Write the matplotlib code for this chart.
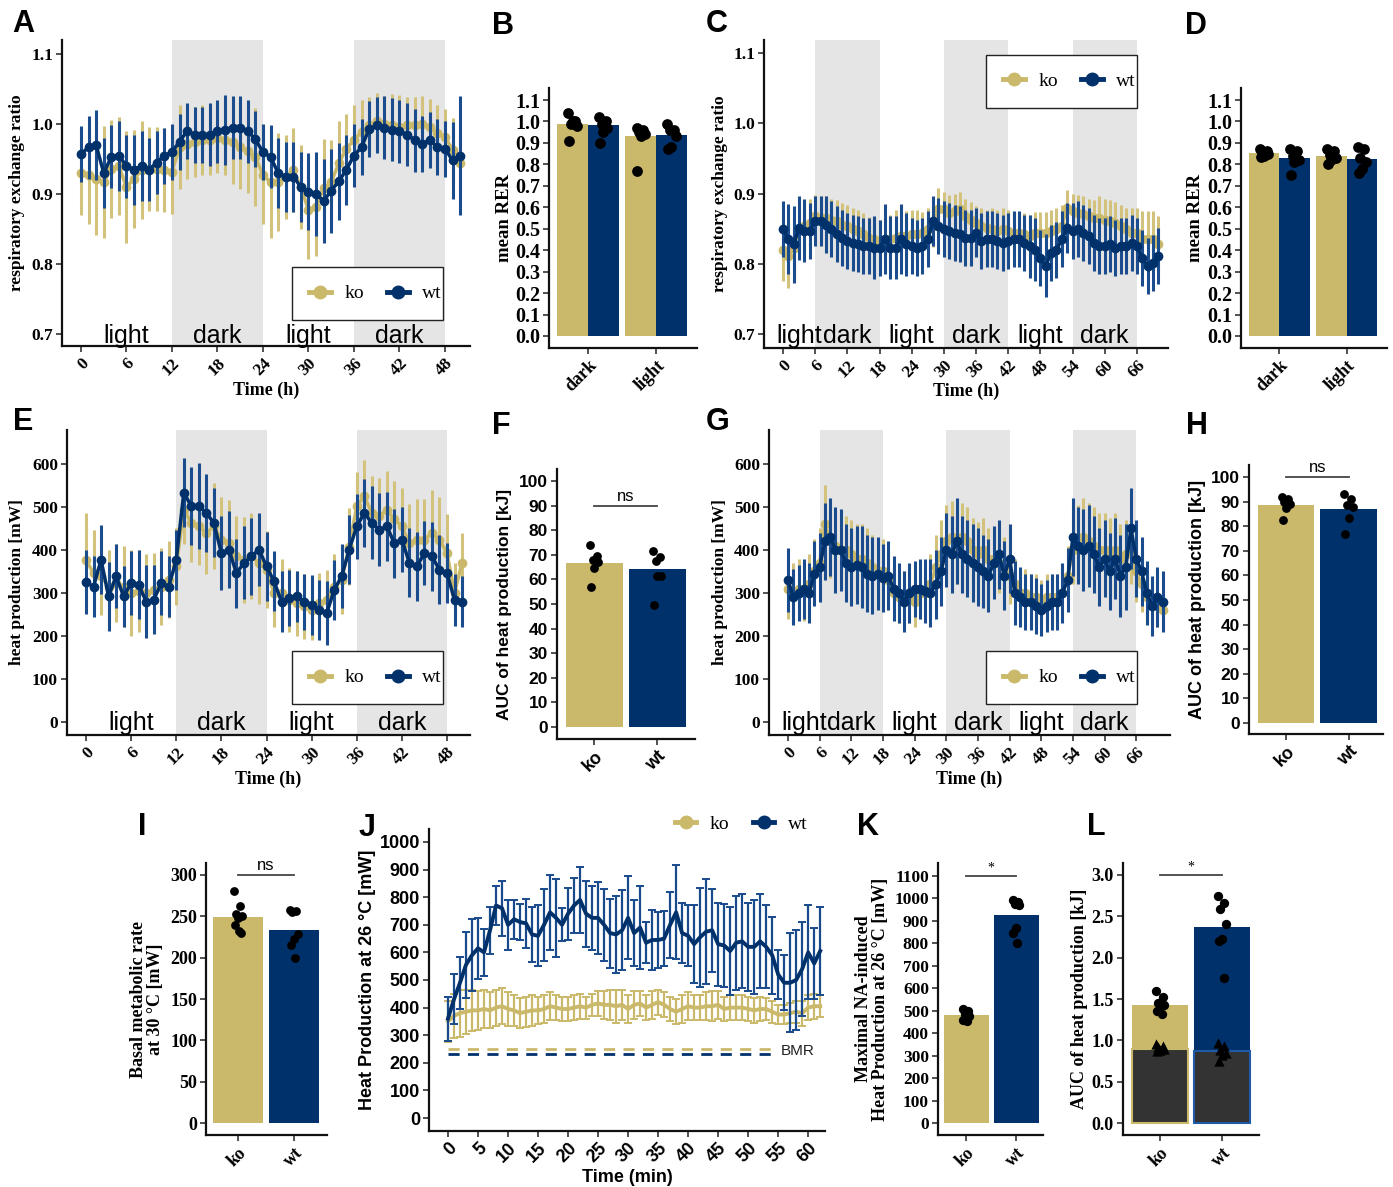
import numpy as np
import matplotlib
matplotlib.use('Agg')
import matplotlib.pyplot as plt
from matplotlib.patches import Rectangle
from matplotlib.lines import Line2D

SERIF = 'Liberation Serif'
SANS = 'Liberation Sans'
KO_C = '#CBB96B'
WT_C = '#00316B'
KO_EC = '#D3C27C'
WT_EC = '#1B4C8E'
SHADE = '#E5E5E5'

groups = ['ko', 'wt']

# ---------------- Panel A: RER (hourly) ----------------
A_t = list(range(0, 51))
A_wt = [0.957,0.967,0.970,0.930,0.953,0.955,0.940,0.935,0.940,0.935,
        0.945,0.955,0.960,0.975,0.990,0.985,0.985,0.985,0.990,0.992,
        0.995,0.995,0.990,0.978,0.960,0.953,0.930,0.925,0.925,0.910,
        0.903,0.900,0.890,0.905,0.918,0.935,0.955,0.967,0.993,0.998,
        0.995,0.992,0.990,0.985,0.977,0.972,0.977,0.967,0.965,0.948,
        0.955]
A_wt_e = [0.04,0.045,0.05,0.05,0.045,0.05,0.045,0.05,0.05,0.045,
          0.045,0.04,0.04,0.04,0.04,0.04,0.04,0.045,0.045,0.05,
          0.045,0.045,0.045,0.04,0.04,0.045,0.05,0.05,0.05,0.05,
          0.055,0.06,0.06,0.06,0.055,0.05,0.045,0.04,0.04,0.04,
          0.045,0.045,0.045,0.045,0.045,0.04,0.04,0.04,0.04,0.055,
          0.085]
A_ko = [0.930,0.927,0.922,0.917,0.936,0.940,0.910,0.922,0.934,0.936,
        0.936,0.934,0.932,0.967,0.972,0.975,0.977,0.977,0.980,0.977,
        0.975,0.967,0.962,0.953,0.927,0.917,0.917,0.925,0.934,0.910,
        0.877,0.882,0.908,0.917,0.944,0.965,0.977,0.989,0.998,1.005,
        1.000,0.998,0.996,0.998,0.998,1.000,0.996,0.987,0.982,0.963,
        0.944]
A_ko_e = [0.06,0.07,0.08,0.08,0.07,0.07,0.08,0.07,0.07,0.06,
          0.06,0.06,0.06,0.06,0.05,0.05,0.05,0.05,0.05,0.05,
          0.06,0.06,0.06,0.07,0.07,0.08,0.07,0.06,0.06,0.06,
          0.07,0.07,0.07,0.06,0.06,0.05,0.05,0.045,0.04,0.04,
          0.04,0.045,0.045,0.04,0.04,0.04,0.04,0.04,0.04,0.045,
          0.04]

# ---------------- Panel C: RER (hourly) ----------------
C_t = list(range(0, 71))
C_wt = [0.850,0.835,0.828,0.851,0.847,0.847,0.861,0.861,0.856,0.849,
        0.842,0.837,0.832,0.830,0.828,0.825,0.825,0.823,0.823,0.835,
        0.823,0.823,0.835,0.828,0.825,0.823,0.825,0.835,0.861,0.854,
        0.849,0.847,0.844,0.842,0.837,0.837,0.844,0.832,0.835,0.835,
        0.832,0.830,0.832,0.835,0.835,0.830,0.825,0.820,0.808,0.797,
        0.816,0.820,0.835,0.851,0.847,0.849,0.844,0.840,0.830,0.825,
        0.825,0.828,0.823,0.825,0.825,0.830,0.825,0.808,0.797,0.801,
        0.811]
C_wt_e = [0.04,0.05,0.055,0.045,0.045,0.04,0.035,0.035,0.04,0.04,
          0.04,0.04,0.04,0.04,0.04,0.04,0.04,0.045,0.04,0.05,
          0.045,0.045,0.05,0.045,0.04,0.04,0.04,0.04,0.035,0.04,
          0.04,0.04,0.04,0.04,0.04,0.04,0.035,0.04,0.04,0.04,
          0.04,0.04,0.04,0.04,0.04,0.04,0.045,0.045,0.04,0.045,
          0.04,0.04,0.04,0.035,0.04,0.04,0.04,0.04,0.04,0.04,
          0.04,0.04,0.04,0.04,0.04,0.04,0.04,0.04,0.04,0.04,
          0.04]
C_ko = [0.820,0.811,0.823,0.849,0.854,0.858,0.868,0.866,0.866,0.863,
        0.861,0.856,0.854,0.849,0.847,0.842,0.837,0.835,0.832,0.830,
        0.835,0.837,0.840,0.840,0.842,0.842,0.844,0.849,0.854,0.878,
        0.878,0.873,0.875,0.878,0.868,0.863,0.858,0.854,0.851,0.849,
        0.847,0.849,0.847,0.844,0.844,0.842,0.840,0.844,0.844,0.844,
        0.847,0.849,0.854,0.880,0.875,0.873,0.871,0.868,0.866,0.866,
        0.863,0.861,0.858,0.854,0.849,0.844,0.844,0.835,0.835,0.835,
        0.828]
C_ko_e = [0.045,0.045,0.04,0.035,0.035,0.035,0.03,0.03,0.03,0.03,
          0.03,0.03,0.03,0.03,0.03,0.03,0.03,0.03,0.03,0.035,
          0.035,0.04,0.035,0.035,0.035,0.035,0.03,0.03,0.03,0.03,
          0.025,0.025,0.025,0.025,0.025,0.025,0.025,0.025,0.025,0.03,
          0.03,0.03,0.03,0.03,0.03,0.03,0.03,0.03,0.03,0.03,
          0.03,0.03,0.03,0.025,0.025,0.025,0.025,0.025,0.025,0.03,
          0.03,0.03,0.03,0.03,0.03,0.035,0.035,0.04,0.04,0.04,
          0.04]

# ---------------- Panel E: heat production (hourly) ----------------
E_t = list(range(0, 51))
E_wt = [325,315,377,292,339,292,323,319,280,284,
        323,315,377,533,502,502,486,463,393,401,
        346,370,385,401,362,327,280,288,292,280,
        273,261,253,307,339,401,455,486,463,447,
        455,416,424,370,362,393,385,354,346,284,
        280]
E_wt_e = [75,70,80,80,75,70,75,80,85,80,
          75,70,70,80,90,100,90,80,85,90,
          80,85,90,85,80,70,70,65,60,65,
          70,70,75,70,75,80,75,80,85,85,
          80,80,75,80,80,75,80,80,70,60,
          60]
E_ko = [377,346,339,315,323,315,300,304,300,307,
        315,331,362,494,463,455,440,455,424,416,
        385,377,385,370,354,300,300,284,276,269,
        261,276,284,315,331,408,502,525,486,478,
        494,471,455,416,424,424,440,424,393,300,
        370]
E_ko_e = [110,100,90,85,90,95,100,95,90,85,
          90,90,90,80,90,90,95,100,100,100,
          95,100,100,95,90,80,80,75,75,75,
          70,70,70,75,80,90,80,85,85,90,
          90,90,90,90,95,95,100,100,90,70,
          70]

# ---------------- Panel G: heat production (hourly) ----------------
G_t = list(range(0, 72))
G_wt = [330,290,300,310,300,345,360,420,430,400,
        400,370,360,365,360,345,340,345,335,340,
        310,300,280,300,310,310,305,300,320,350,
        400,390,420,390,380,370,360,350,340,370,
        390,340,380,300,290,280,280,270,260,270,
        280,280,300,330,430,410,400,410,390,360,
        380,350,380,340,360,450,380,350,300,270,
        290,280]
G_wt_e = [75,65,65,70,70,75,80,90,90,100,
          95,90,90,90,95,90,90,85,80,80,
          75,70,70,70,65,70,75,80,80,80,
          85,90,100,90,90,90,90,85,85,85,
          80,80,80,75,70,65,65,65,60,60,
          65,65,70,75,90,90,95,95,90,90,
          90,90,95,95,100,95,90,80,75,70,
          70,70]
G_ko = [310,300,310,305,320,350,370,460,420,410,
        400,400,390,380,380,370,360,350,350,330,
        300,290,290,290,280,300,300,320,360,390,
        420,430,400,430,420,400,390,400,380,380,
        370,360,340,320,300,300,290,290,280,290,
        290,290,300,340,400,420,430,420,410,400,
        400,390,400,380,390,400,350,320,290,280,
        270,260]
G_ko_e = [70,70,70,70,70,75,80,90,85,85,
          80,80,80,80,80,80,75,75,75,70,
          60,60,60,60,60,60,65,70,75,80,
          85,85,80,80,80,75,75,75,70,70,
          70,70,65,60,55,55,55,55,50,55,
          55,55,60,70,80,85,90,90,90,85,
          85,85,85,80,80,80,70,65,60,55,
          50,45]

# ---------------- Bar panels ----------------
BD_cats = ['dark', 'light']
B_ko = [0.990, 0.930]
B_wt = [0.982, 0.935]
B_ko_pts = [[1.04, 1.00, 0.99, 0.98, 1.00, 0.91], [0.97, 0.96, 0.95, 0.94, 0.93, 0.77]]
B_wt_pts = [[1.02, 1.00, 0.99, 0.97, 0.95, 0.90], [0.99, 0.96, 0.96, 0.93, 0.88, 0.87]]

D_ko = [0.855, 0.840]
D_wt = [0.830, 0.825]
D_ko_pts = [[0.87, 0.86, 0.855, 0.85, 0.84, 0.835], [0.87, 0.86, 0.845, 0.83, 0.82, 0.80]]
D_wt_pts = [[0.87, 0.86, 0.84, 0.82, 0.81, 0.75], [0.88, 0.87, 0.83, 0.81, 0.78, 0.76]]

F_vals = [66.5, 64.3]
F_pts = [[74, 69.5, 68, 67, 64.5, 57], [71.5, 69, 67.5, 61.5, 61.5, 49.5]]
H_vals = [88.8, 87.0]
H_pts = [[92, 91, 90, 89, 87.5, 82.5], [93, 91, 88.5, 88, 83.5, 77]]
I_vals = [249, 233]
I_pts = [[281, 262, 253, 250, 248, 239, 232, 230], [258, 257, 255, 229, 222, 215, 199]]
K_vals = [480, 925]
K_pts = [[510, 500, 485, 475, 470, 460, 455], [995, 985, 975, 970, 870, 845, 800]]
L_total = [1.43, 2.37]
L_basal = [0.89, 0.87]
L_circ = [[1.60, 1.52, 1.45, 1.43, 1.40, 1.35, 1.32], [2.75, 2.66, 2.59, 2.41, 2.22, 2.20, 1.75]]
L_tri = [[0.95, 0.93, 0.92, 0.90, 0.88, 0.87], [0.97, 0.93, 0.88, 0.85, 0.82, 0.75]]

# ---------------- Panel J: NA-induced heat production ----------------
J_t = list(range(0, 63))
J_wt = [360,430,490,555,590,615,600,680,770,760,
        700,720,710,705,665,660,700,745,725,700,
        740,770,790,740,725,725,700,670,665,680,
        725,670,690,635,645,645,650,700,745,670,
        660,630,655,675,680,630,625,605,635,640,
        620,620,640,620,590,520,490,490,500,540,
        600,560,605]
J_wt_e = [80,90,95,120,130,110,85,85,70,100,
          90,70,65,90,100,110,130,135,140,60,
          95,100,120,120,115,130,130,125,140,145,
          150,120,150,75,110,100,100,120,170,110,
          110,140,180,190,150,150,150,160,170,170,
          160,170,170,150,140,90,100,180,180,170,
          170,130,160]
J_ko = [350,370,380,385,390,390,395,390,400,405,
        395,390,380,385,390,390,395,405,400,395,
        395,400,405,400,410,415,410,410,405,410,
        395,410,415,400,410,420,410,395,385,395,
        405,400,400,405,405,410,395,400,400,400,
        395,390,395,395,385,375,375,380,385,380,
        400,405,405]
J_ko_e = [75,80,85,80,75,70,70,65,65,65,
          60,55,55,55,55,50,50,50,45,45,
          45,45,45,40,40,45,50,55,60,55,
          50,50,45,45,50,45,45,45,45,50,
          50,45,45,50,55,50,45,45,45,45,
          45,45,45,40,40,35,35,35,40,45,
          45,45,40]
J_bmr = [250, 233]

JIT = np.array([-0.05, 0.03, -0.02, 0.05, 0.0, -0.04, 0.02, 0.045])

W, H = 1393, 1187
fig = plt.figure(figsize=(W / 100, H / 100), dpi=100)


def px_ax(l, t, r, b):
    return fig.add_axes([l / W, 1 - b / H, (r - l) / W, (b - t) / H])


def classic(ax):
    ax.spines['top'].set_visible(False)
    ax.spines['right'].set_visible(False)
    for s in ['left', 'bottom']:
        ax.spines[s].set_linewidth(1.6)
        ax.spines[s].set_color('#111111')
    ax.tick_params(axis='both', width=1.2, length=4.5, color='#333333', pad=2)
    ax.patch.set_alpha(0)


def ticks(ax, xt, xl, yt, yl, fam, xsize, ysize):
    ax.set_xticks(xt)
    ax.set_xticklabels(xl, rotation=45, ha='right', va='top', rotation_mode='anchor',
                       fontfamily=fam, fontweight='bold', fontsize=xsize)
    ax.set_yticks(yt)
    ax.set_yticklabels(yl, fontfamily=fam, fontweight='bold', fontsize=ysize)


def labels(ax, box, ylab, ylab_x, fam, size, xlab=None, xlab_y=None, xsize=13):
    l, t, r, b = box
    ax.set_ylabel(ylab, fontfamily=fam, fontweight='bold', fontsize=size, linespacing=1.0)
    ax.yaxis.set_label_coords((ylab_x - l) / (r - l), 0.5)
    ax.yaxis.label.set_verticalalignment('center')
    if xlab:
        ax.set_xlabel(xlab, fontfamily=fam, fontweight='bold', fontsize=xsize)
        ax.xaxis.set_label_coords(0.5, (b - xlab_y) / (b - t))
        ax.xaxis.label.set_verticalalignment('center')


def ts_panel(box, t, ko, ko_e, wt, wt_e, xlim, ylim, spans, lab_x, lab_txt, lab_y,
             xt, yt, yl, ylab, ylab_x, xlab_y, leg_box):
    ax = px_ax(*box)
    classic(ax)
    for s0, s1 in spans:
        ax.axvspan(s0, s1, color=SHADE, lw=0, zorder=0)
    t = np.array(t); ko = np.array(ko); ko_e = np.array(ko_e)
    wt = np.array(wt); wt_e = np.array(wt_e)
    ax.vlines(t, ko - ko_e, ko + ko_e, color=KO_EC, lw=2.2, zorder=2)
    ax.plot(t, ko, '-o', color=KO_C, ms=6, lw=2.5, zorder=3)
    ax.vlines(t, wt - wt_e, wt + wt_e, color=WT_EC, lw=2.2, zorder=4)
    ax.plot(t, wt, '-o', color=WT_C, ms=6, lw=2.5, zorder=5)
    for x, s in zip(lab_x, lab_txt):
        ax.text(x, lab_y, s, ha='center', va='baseline', fontsize=18, family=SANS, zorder=6)
    ax.set_xlim(*xlim)
    ax.set_ylim(*ylim)
    ticks(ax, xt, [str(v) for v in xt], yt, yl, SERIF, 12.5, 12.5)
    labels(ax, box, ylab, ylab_x, SERIF, 12.5, 'Time (h)', xlab_y, 13)
    # legend box
    l, tp, r, b = box
    lx0, ly0, lx1, ly1 = leg_box
    rect = Rectangle(((lx0 - l) / (r - l), (b - ly1) / (b - tp)),
                     (lx1 - lx0) / (r - l), (ly1 - ly0) / (b - tp),
                     transform=ax.transAxes, facecolor='white', edgecolor='#222222',
                     lw=1.0, zorder=7)
    ax.add_patch(rect)
    handles = [Line2D([], [], color=KO_C, marker='o', ms=9, lw=3.5),
               Line2D([], [], color=WT_C, marker='o', ms=9, lw=3.5)]
    leg = ax.legend(handles, groups, loc='center',
                    bbox_to_anchor=((lx0 + lx1) / 2 / 1 - l, 0, 0, 0), frameon=False)
    leg.remove()
    cx = ((lx0 + lx1) / 2 - l) / (r - l)
    cy = (b - (ly0 + ly1) / 2) / (b - tp)
    leg = ax.legend(handles, groups, loc='center', bbox_to_anchor=(cx + 0.02, cy),
                    bbox_transform=ax.transAxes, frameon=False, ncol=2,
                    handlelength=1.1, handletextpad=0.7, columnspacing=1.2,
                    prop={'family': SERIF, 'size': 14})
    leg.set_zorder(8)
    return ax


# ---- A ----
ts_panel((62, 40, 470, 346), A_t, A_ko, A_ko_e, A_wt, A_wt_e,
         (-2.5, 51.3), (0.683, 1.12), [(12, 24), (36, 48)],
         [6, 18, 30, 42], ['light', 'dark', 'light', 'dark'], 0.687,
         list(range(0, 49, 6)), [0.7, 0.8, 0.9, 1.0, 1.1], ['0.7', '0.8', '0.9', '1.0', '1.1'],
         'respiratory exchange ratio', 17, 390, (292, 267, 443, 320))

# ---- C ----
ts_panel((764, 40, 1168, 348), C_t, C_ko, C_ko_e, C_wt, C_wt_e,
         (-3.54, 71.8), (0.68, 1.119), [(6, 18), (30, 42), (54, 66)],
         [3, 12, 24, 36, 48, 60], ['light', 'dark', 'light', 'dark', 'light', 'dark'], 0.687,
         list(range(0, 67, 6)), [0.7, 0.8, 0.9, 1.0, 1.1], ['0.7', '0.8', '0.9', '1.0', '1.1'],
         'respiratory exchange ratio', 720, 391, (986, 55, 1137, 108))

# ---- E ----
ts_panel((67, 430, 470, 735), E_t, E_ko, E_ko_e, E_wt, E_wt_e,
         (-2.53, 51.06), (-30.2, 679), [(12, 24), (36, 48)],
         [6, 18, 30, 42], ['light', 'dark', 'light', 'dark'], -18,
         list(range(0, 49, 6)), list(range(0, 601, 100)), [str(v) for v in range(0, 601, 100)],
         'heat production [mW]', 17, 779, (292, 651, 443, 704))

# ---- G ----
ts_panel((769, 430, 1170, 735), G_t, G_ko, G_ko_e, G_wt, G_wt_e,
         (-3.6, 72.4), (-30.2, 679), [(6, 18), (30, 42), (54, 66)],
         [3, 12, 24, 36, 48, 60], ['light', 'dark', 'light', 'dark', 'light', 'dark'], -18,
         list(range(0, 67, 6)), list(range(0, 601, 100)), [str(v) for v in range(0, 601, 100)],
         'heat production [mW]', 720, 779, (986, 651, 1137, 704))


# ---- grouped bars B, D ----
def grouped(box, ko, wt, ko_pts, wt_pts, ylab_x):
    ax = px_ax(*box)
    classic(ax)
    x = np.arange(1, len(BD_cats) + 1)
    ax.bar(x - 0.225, ko, 0.45, color=KO_C, zorder=2)
    ax.bar(x + 0.225, wt, 0.45, color=WT_C, zorder=2)
    for i in range(len(BD_cats)):
        p = np.array(ko_pts[i])
        ax.scatter(x[i] - 0.225 + JIT[:len(p)] * 1.2, p, s=60, color='black', zorder=4, lw=0)
        p = np.array(wt_pts[i])
        ax.scatter(x[i] + 0.225 + JIT[:len(p)] * 1.2, p, s=60, color='black', zorder=4, lw=0)
    ax.set_xlim(0.43, 2.6)
    ax.set_ylim(-0.056, 1.156)
    yt = [round(0.1 * k, 1) for k in range(12)]
    ticks(ax, list(x), BD_cats, yt, ['%.1f' % v for v in yt], SERIF, 13, 14.5)
    labels(ax, box, 'mean RER', ylab_x, SERIF, 13.5)
    return ax


grouped((549, 88, 697, 348), B_ko, B_wt, B_ko_pts, B_wt_pts, 505)
grouped((1241, 88, 1387, 348), D_ko, D_wt, D_ko_pts, D_wt_pts, 1195)


def simple_bar(box, vals, pts, ylim, xlim, yt, fam, ylab, ylab_x, tsize, lsize, s,
               sig=None, sig_txt=None, sig_fam=SANS, sig_size=12, sig_dy=0.0):
    ax = px_ax(*box)
    classic(ax)
    x = np.array([1, 2])
    ax.bar(x, vals, 0.9, color=[KO_C, WT_C], zorder=2)
    for i in range(2):
        p = np.array(pts[i])
        ax.scatter(x[i] + JIT[:len(p)] * 1.3, p, s=s, color='black', zorder=4, lw=0)
    ax.set_xlim(*xlim)
    ax.set_ylim(*ylim)
    ticks(ax, list(x), groups, yt, [str(v) for v in yt], fam, 13, tsize)
    labels(ax, box, ylab, ylab_x, fam, lsize)
    if sig is not None:
        ax.plot([1, 2], [sig, sig], color='#444444', lw=1.3, zorder=5)
        ax.text(1.5, sig + sig_dy, sig_txt, ha='center', va='bottom', fontsize=sig_size,
                family=sig_fam, zorder=5)
    return ax


# ---- F ----
simple_bar((557, 469, 695, 739), F_vals, F_pts, (-4.9, 104.9), (0.41, 2.6),
           list(range(0, 101, 10)), SANS, 'AUC of heat production [kJ]', 505, 12.5, 12.5, 40,
           sig=90, sig_txt='ns', sig_dy=0.8, sig_size=12)
# ---- H ----
simple_bar((1249, 465, 1383, 734), H_vals, H_pts, (-4.5, 104.9), (0.41, 2.55),
           list(range(0, 101, 10)), SANS, 'AUC of heat production [kJ]', 1197, 12.5, 13, 40,
           sig=100, sig_txt='ns', sig_dy=0.8, sig_size=12)
# ---- I ----
simple_bar((206, 863, 327, 1135), I_vals, I_pts, (-14.5, 314.5), (0.43, 2.59),
           list(range(0, 301, 50)), SERIF, 'Basal metabolic rate\nat 30 \u00b0C [mW]', 147, 13, 13, 40,
           sig=300, sig_txt='ns', sig_dy=2, sig_size=12)
# ---- K ----
simple_bar((938, 863, 1043, 1135), K_vals, K_pts, (-53, 1158), (0.44, 2.54),
           list(range(0, 1101, 100)), SERIF, 'Maximal NA-induced\nHeat Production at 26 \u00b0C [mW]',
           872, 12.5, 13, 45, sig=1100, sig_txt='*', sig_fam=SERIF, sig_dy=5, sig_size=10)

# ---- L ----
boxL = (1123, 863, 1259, 1135)
axL = px_ax(*boxL)
classic(axL)
xL = np.array([1, 2])
axL.bar(xL, L_total, 0.9, color=[KO_C, WT_C], zorder=2)
axL.bar(xL, L_basal, 0.9, color='#333333', edgecolor=[KO_C, '#1F5AA6'], lw=1.5, zorder=3)
for i in range(2):
    p = np.array(L_circ[i])
    axL.scatter(xL[i] + JIT[:len(p)] * 1.3, p, s=45, color='black', zorder=4, lw=0)
    p = np.array(L_tri[i])
    axL.scatter(xL[i] + JIT[:len(p)] * 1.3, p, s=55, marker='^', color='black', zorder=4, lw=0)
axL.set_xlim(0.4, 2.6)
axL.set_ylim(-0.145, 3.145)
ytL = [0.0, 0.5, 1.0, 1.5, 2.0, 2.5, 3.0]
ticks(axL, list(xL), groups, ytL, ['%.1f' % v for v in ytL], SERIF, 13, 13)
labels(axL, boxL, 'AUC of heat production [kJ]', 1080, SERIF, 13)
axL.plot([1, 2], [3.0, 3.0], color='#444444', lw=1.3, zorder=5)
axL.text(1.5, 3.015, '*', ha='center', va='bottom', fontsize=10, family=SERIF, zorder=5)

# ---- J ----
boxJ = (429, 829, 825, 1131)
axJ = px_ax(*boxJ)
classic(axJ)
axJ.errorbar(J_t, J_ko, yerr=J_ko_e, color=KO_C, lw=2.8, elinewidth=1.6, capsize=3,
             capthick=1.4, zorder=3)
axJ.errorbar(J_t, J_wt, yerr=J_wt_e, color=WT_C, lw=2.8, elinewidth=1.6, capsize=3,
             capthick=1.4, zorder=4, ecolor='#184A8C')
axJ.hlines(J_bmr[0], 0, 55, colors=KO_C, linestyles=(0, (4, 3)), lw=2, zorder=2)
axJ.hlines(J_bmr[1], 0, 55, colors=WT_C, linestyles=(0, (4, 3)), lw=2, zorder=2)
axJ.text(55.4, (J_bmr[0] + J_bmr[1]) / 2, 'BMR', ha='left', va='center', fontsize=11,
         family=SANS, color='#222222')
axJ.set_xlim(-3.16, 62.8)
axJ.set_ylim(-47, 1047)
ticks(axJ, list(range(0, 61, 5)), [str(v) for v in range(0, 61, 5)],
      list(range(0, 1001, 100)), [str(v) for v in range(0, 1001, 100)], SANS, 13, 13)
labels(axJ, boxJ, 'Heat Production at 26 \u00b0C [mW]', 367, SANS, 13, 'Time (min)', 1177, 13)
hJ = [Line2D([], [], color=KO_C, marker='o', ms=9, lw=3.5),
      Line2D([], [], color=WT_C, marker='o', ms=9, lw=3.5)]
legJ = axJ.legend(hJ, groups, loc='center right', bbox_to_anchor=(1.0, 1.015),
                  bbox_transform=axJ.transAxes, frameon=False, ncol=2,
                  handlelength=1.1, handletextpad=0.7, columnspacing=1.2,
                  prop={'family': SERIF, 'size': 14})

# ---- panel letters ----
letters = [('A', 12, 9), ('B', 492, 11), ('C', 706, 9), ('D', 1185, 11),
           ('E', 13, 407), ('F', 492, 411), ('G', 706, 407), ('H', 1186, 411),
           ('I', 138, 812), ('J', 359, 813), ('K', 857, 812), ('L', 1087, 812)]
for s, x, y in letters:
    fig.text(x / W, 1 - y / H, s, ha='left', va='top', fontsize=22, fontweight='bold',
             family=SANS)

fig.savefig('out.png', dpi=100)
